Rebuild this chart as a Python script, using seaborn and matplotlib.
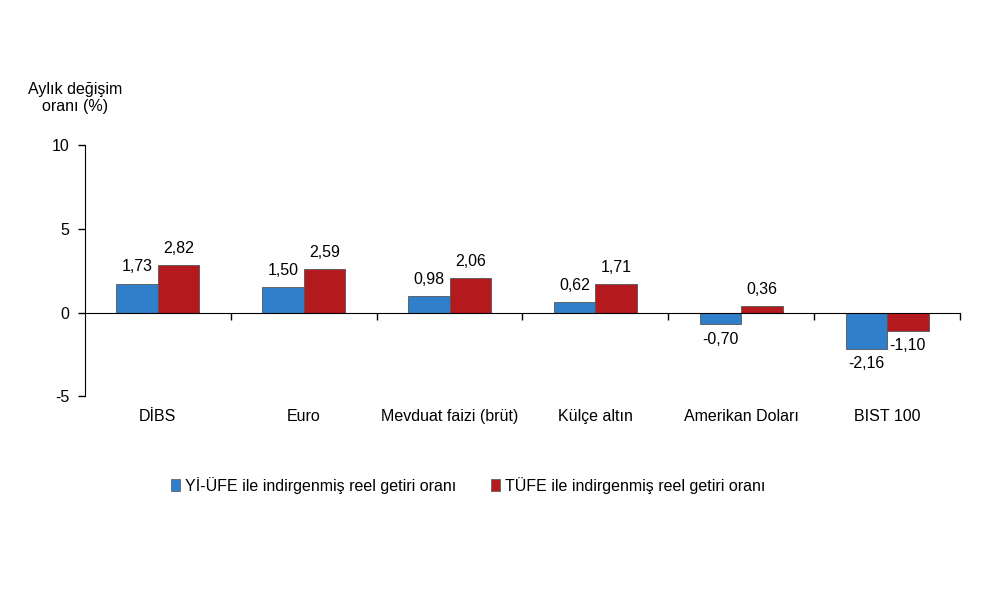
import pandas as pd
import matplotlib
matplotlib.use("Agg")
import matplotlib.pyplot as plt
import seaborn as sns
from matplotlib.patches import Patch

# data
categories = ["DİBS", "Euro", "Mevduat faizi (brüt)", "Külçe altın", "Amerikan Doları", "BIST 100"]
yiufe = [1.73, 1.50, 0.98, 0.62, -0.70, -2.16]
tufe = [2.82, 2.59, 2.06, 1.71, 0.36, -1.10]
series_names = ["Yİ-ÜFE ile indirgenmiş reel getiri oranı", "TÜFE ile indirgenmiş reel getiri oranı"]
colors = ["#2f7fca", "#b3191d"]

df = pd.DataFrame({
    "Kategori": categories * 2,
    "Seri": [series_names[0]] * len(categories) + [series_names[1]] * len(categories),
    "Deger": yiufe + tufe,
})

sns.set_style("white")
plt.rcParams["font.family"] = ["Liberation Sans", "DejaVu Sans"]
plt.rcParams["text.color"] = "black"
plt.rcParams["xtick.color"] = "black"
plt.rcParams["ytick.color"] = "black"
fs = 11.5

fig = plt.figure(figsize=(10, 5.93), dpi=100)
ax = fig.add_axes([0.085, 0.332, 0.875, 0.423])

sns.barplot(data=df, x="Kategori", y="Deger", hue="Seri", palette=colors, saturation=1,
            width=0.57, edgecolor="#555555", linewidth=0.6, ax=ax, legend=False)

ax.set_ylim(-5, 10)
ax.set_xlim(-0.5, len(categories) - 0.5)
ax.set_yticks([-5, 0, 5, 10])
ax.set_yticklabels(["-5", "0", "5", "10"], fontsize=fs)
ax.tick_params(axis="y", direction="out", length=5, width=1, color="black", labelcolor="black", pad=6, left=True)

# x axis on zero line, ticks between groups
for s in ["top", "right"]:
    ax.spines[s].set_visible(False)
ax.spines["bottom"].set_position(("data", 0))
ax.spines["bottom"].set_color("black")
ax.spines["left"].set_color("black")
ax.set_xticks([i + 0.5 for i in range(len(categories))])
ax.set_xticklabels([])
ax.tick_params(axis="x", direction="out", length=5, width=1, color="black", bottom=True)
ax.set_xlabel("")
ax.set_ylabel("")

# category labels under plot
for i, c in enumerate(categories):
    ax.text(i, -6.2, c, ha="center", va="center", fontsize=fs, color="black")

# value labels
for container in ax.containers:
    for bar in container:
        h = bar.get_height()
        x = bar.get_x() + bar.get_width() / 2
        txt = f"{h:.2f}".replace(".", ",")
        if h >= 0:
            ax.text(x, h + 0.55, txt, ha="center", va="bottom", fontsize=fs, color="black")
        else:
            ax.text(x, h - 0.45, txt, ha="center", va="top", fontsize=fs, color="black")

fig.text(0.075, 0.835, "Aylık değişim\noranı (%)", ha="center", va="center", fontsize=fs,
         linespacing=1.15, color="black")

handles = [Patch(facecolor=colors[0], edgecolor="#555555", linewidth=0.5),
           Patch(facecolor=colors[1], edgecolor="#555555", linewidth=0.5)]
leg = fig.legend(handles, series_names, loc="center", bbox_to_anchor=(0.468, 0.182), ncol=2,
                 frameon=False, fontsize=fs, handlelength=0.55, handleheight=0.8, handletextpad=0.3,
                 columnspacing=2.2)
for t in leg.get_texts():
    t.set_color("black")

fig.savefig("out.png", dpi=100)
